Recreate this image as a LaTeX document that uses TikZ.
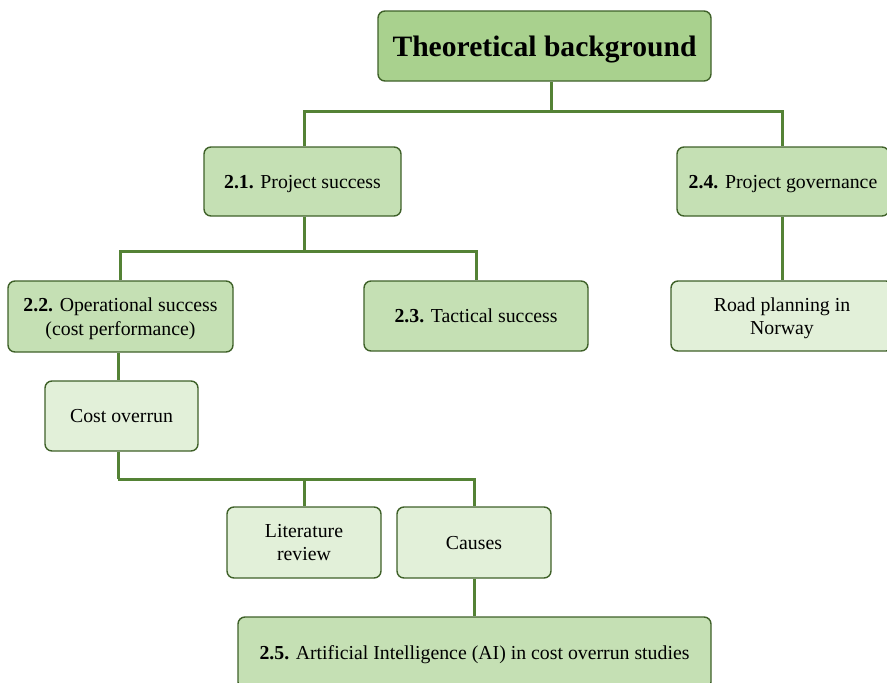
\documentclass[tikz,border=0pt]{standalone}
\usepackage{fontspec}
\setmainfont{Liberation Serif}
\begin{document}
\begin{tikzpicture}[x=1pt,y=-1pt,
  box/.style={draw=edgegreen, line width=1.4pt, rounded corners=7pt, anchor=center,
    inner sep=0pt, text depth=0pt, align=center,
    font=\fontsize{19.8}{23.5}\selectfont, text=black},
  topbox/.style={box, fill=titlefill},
  midbox/.style={box, fill=midfill},
  leafbox/.style={box, fill=leaffill},
  link/.style={draw=linegreen, line width=3pt}
]
\definecolor{titlefill}{HTML}{A9D18E}
\definecolor{midfill}{HTML}{C5E0B4}
\definecolor{leaffill}{HTML}{E2F0D9}
\definecolor{edgegreen}{HTML}{3F6129}
\definecolor{linegreen}{HTML}{548235}
\useasboundingbox (0,0) rectangle (887,683);
\begin{scope}
\clip (0,0) rectangle (887,683);

% branch points of the tree
\coordinate (j1) at (551,111);
\coordinate (j2) at (304,251);
\coordinate (j3) at (118,479);

% nodes
\node[topbox, minimum width=333pt, minimum height=70pt,
  font=\fontsize{29.6}{34}\selectfont\bfseries] (title) at (544.5,46) {Theoretical background};
\node[midbox, minimum width=197pt, minimum height=69pt] (ps) at (302.5,181.5) {\textbf{2.1.} Project success};
\node[midbox, minimum width=212pt, minimum height=69pt] (pg) at (783,181.5) {\textbf{2.4.} Project governance};
\node[midbox, minimum width=225pt, minimum height=71pt] (ops) at (120.5,316.5) {\textbf{2.2.} Operational success\\(cost performance)};
\node[midbox, minimum width=224pt, minimum height=70pt] (tac) at (476,316) {\textbf{2.3.} Tactical success};
\node[leafbox, minimum width=222pt, minimum height=70pt] (road) at (782,316) {Road planning in\\Norway};
\node[leafbox, minimum width=153pt, minimum height=70pt] (cost) at (121.5,416) {Cost overrun};
\node[leafbox, minimum width=154pt, minimum height=71pt] (lit) at (304,542.5) {Literature\\review};
\node[leafbox, minimum width=154pt, minimum height=71pt] (cau) at (474,542.5) {Causes};
\node[midbox, minimum width=473pt, minimum height=72pt] (ai) at (474.5,653) {\textbf{2.5.} Artificial Intelligence (AI) in cost overrun studies};

% connectors
\draw[link] (title.south -| j1) -- (j1);
\draw[link] (ps.north -| j2) |- (j1) -| (pg.north -| 782,0);
\draw[link] (ps.south -| j2) -- (j2);
\draw[link] (ops.north -| 120,0) |- (j2) -| (tac.north);
\draw[link] (pg.south -| 782,0) -- (road.north -| 782,0);
\draw[link] (ops.south -| j3) -- (cost.north -| j3);
\draw[link] (cost.south -| j3) -- (j3);
\draw[link] (j3) -| (lit.north -| j2);
\draw[link] (j3) -| (cau.north);
\draw[link] (cau.south) -- (ai.north -| cau.south);
\end{scope}
\end{tikzpicture}
\end{document}
